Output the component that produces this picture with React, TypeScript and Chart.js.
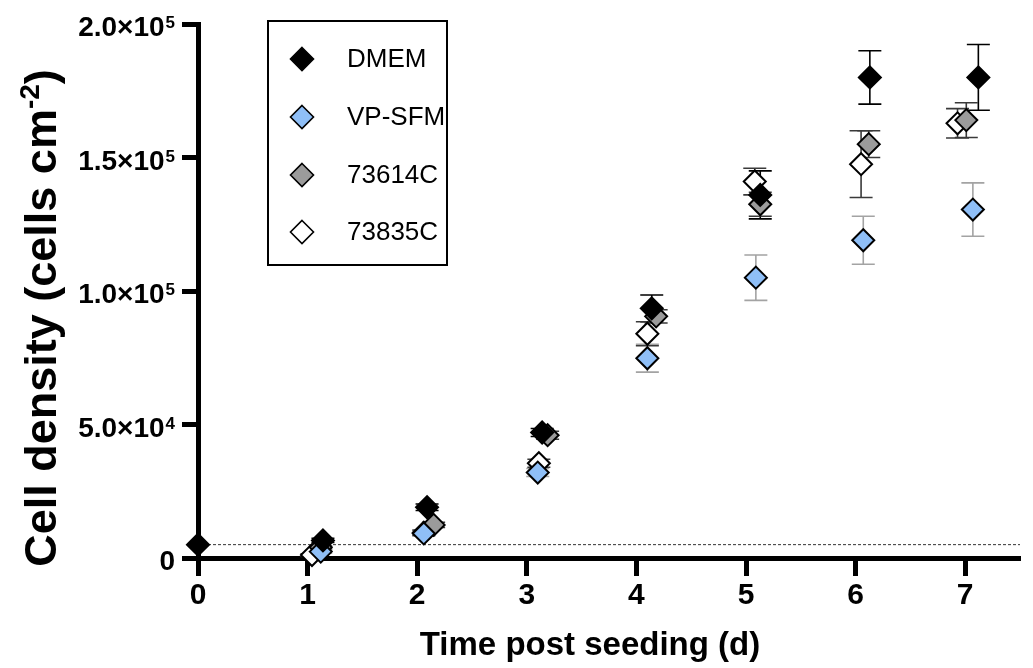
import React, { useEffect, useRef } from 'react';
import { Chart, registerables } from 'chart.js';

Chart.register(...registerables);

// ---------- data ----------
const seriesNames = ['DMEM', 'VP-SFM', '73614C', '73835C'];
const fillColors = ['#000000', '#8fbff7', '#9b9b9b', '#ffffff'];
const errColors = ['#000000', '#a3a3a3', '#3a3a3a', '#3a3a3a'];

const dmemX = [0, 1.14, 2.09, 3.14, 4.14, 5.13, 6.13, 7.12];
const dmemY = [5000, 6600, 19000, 47000, 93500, 136000, 180000, 180000];
const dmemErr = [0, 800, 1200, 1500, 5000, 9000, 10000, 12300];

const vpX = [1.12, 2.06, 3.1, 4.1, 5.09, 6.07, 7.07];
const vpY = [2400, 9200, 32000, 74800, 105000, 119000, 130500];
const vpErr = [600, 1000, 1500, 5200, 8500, 9000, 10000];

const c614X = [1.12, 2.15, 3.19, 4.18, 5.13, 6.12, 7.01];
const c614Y = [4000, 12400, 46000, 90500, 132500, 155000, 164000];
const c614Err = [500, 1000, 1500, 2500, 4500, 5000, 6500];

const c835X = [1.04, 2.06, 3.11, 4.1, 5.08, 6.05, 6.93];
const c835Y = [1100, 9500, 35500, 84000, 141000, 147500, 162800];
const c835Err = [500, 1000, 1500, 4500, 5000, 12500, 5500];

const seedingDensity = 5000;

const xMin = 0;
const xMax = 7.5;
const xTickValues = [0, 1, 2, 3, 4, 5, 6, 7];

const yMin = 0;
const yMax = 200000;
const yTickValues = [0, 50000, 100000, 150000, 200000];
const yTickMantissa = ['0', '5.0×10', '1.0×10', '1.5×10', '2.0×10'];
const yTickExponent = ['', '4', '5', '5', '5'];

const xTitle = 'Time post seeding (d)';
const yTitleMain = 'Cell density (cells cm';
const yTitleSup = '-2';
const yTitleEnd = ')';

const FONT = "'Liberation Sans', Arial, sans-serif";

function makeSet(i: number, xs: number[], ys: number[], errs: number[]) {
  return {
    type: 'scatter' as const,
    label: seriesNames[i],
    data: xs.map((x, k) => ({ x, y: ys[k] })),
    errors: errs,
    errColor: errColors[i],
    pointStyle: 'rectRot',
    pointRadius: 11,
    pointHoverRadius: 11,
    pointBorderWidth: 2,
    pointHoverBorderWidth: 2,
    pointBorderColor: '#000000',
    pointBackgroundColor: fillColors[i],
    showLine: false,
    order: i,
    clip: false,
  };
}

function diamond(ctx: CanvasRenderingContext2D, cx: number, cy: number, r: number, fill: string, lw: number) {
  ctx.beginPath();
  ctx.moveTo(cx, cy - r);
  ctx.lineTo(cx + r, cy);
  ctx.lineTo(cx, cy + r);
  ctx.lineTo(cx - r, cy);
  ctx.closePath();
  ctx.fillStyle = fill;
  ctx.fill();
  ctx.lineWidth = lw;
  ctx.strokeStyle = '#000';
  ctx.stroke();
}

const errorBarPlugin = {
  id: 'errorBars',
  beforeDatasetsDraw(chart: any) {
    const ctx = chart.ctx as CanvasRenderingContext2D;
    const xs = chart.scales.x;
    const ys = chart.scales.y;
    ctx.save();
    chart.data.datasets.forEach((ds: any) => {
      if (!ds.errors) return;
      ctx.strokeStyle = ds.errColor;
      ctx.lineWidth = 1.6;
      ds.data.forEach((p: any, k: number) => {
        const e = ds.errors[k];
        if (!e) return;
        const px = xs.getPixelForValue(p.x);
        const top = ys.getPixelForValue(p.y + e);
        const bot = ys.getPixelForValue(p.y - e);
        const cap = 11.5;
        ctx.beginPath();
        ctx.moveTo(px, top);
        ctx.lineTo(px, bot);
        ctx.moveTo(px - cap, top);
        ctx.lineTo(px + cap, top);
        ctx.moveTo(px - cap, bot);
        ctx.lineTo(px + cap, bot);
        ctx.stroke();
      });
    });
    ctx.restore();
  },
};

const decorPlugin = {
  id: 'decor',
  afterDraw(chart: any) {
    const ctx = chart.ctx as CanvasRenderingContext2D;
    const ys = chart.scales.y;
    ctx.save();
    ctx.fillStyle = '#000';

    // y tick labels with superscripts
    const rightEdge = 175;
    yTickValues.forEach((v, i) => {
      const py = ys.getPixelForValue(v);
      ctx.textAlign = 'right';
      ctx.textBaseline = 'alphabetic';
      let x = rightEdge;
      if (yTickExponent[i]) {
        ctx.font = `bold 17px ${FONT}`;
        ctx.fillText(yTickExponent[i], x, py + 4);
        x -= ctx.measureText(yTickExponent[i]).width + 1;
      }
      ctx.font = `bold 28px ${FONT}`;
      ctx.fillText(yTickMantissa[i], x, py + 12);
    });

    // x title
    ctx.font = `bold 33px ${FONT}`;
    ctx.textAlign = 'center';
    ctx.textBaseline = 'alphabetic';
    ctx.fillText(xTitle, 590, 655);

    // y title (rotated)
    ctx.save();
    ctx.translate(56, 318);
    ctx.rotate(-Math.PI / 2);
    ctx.textAlign = 'left';
    ctx.font = `bold 45px ${FONT}`;
    const w1 = ctx.measureText(yTitleMain).width;
    const w3 = ctx.measureText(yTitleEnd).width;
    ctx.font = `bold 28px ${FONT}`;
    const w2 = ctx.measureText(yTitleSup).width;
    const total = w1 + w2 + w3;
    let sx = -total / 2;
    ctx.font = `bold 45px ${FONT}`;
    ctx.fillText(yTitleMain, sx, 0);
    sx += w1;
    ctx.font = `bold 28px ${FONT}`;
    ctx.fillText(yTitleSup, sx, -17);
    sx += w2;
    ctx.font = `bold 45px ${FONT}`;
    ctx.fillText(yTitleEnd, sx, 0);
    ctx.restore();

    // legend
    ctx.lineWidth = 2;
    ctx.strokeStyle = '#000';
    ctx.strokeRect(268, 21, 179, 244);
    const rowY = [59, 117, 175, 232];
    chart.data.datasets.forEach((ds: any, i: number) => {
      if (!ds.errors) return;
      diamond(ctx, 302, rowY[i], 11.5, fillColors[i], 1.6);
      ctx.fillStyle = '#000';
      ctx.font = `26px ${FONT}`;
      ctx.textAlign = 'left';
      ctx.textBaseline = 'middle';
      ctx.fillText(ds.label, 347, rowY[i] + 1);
    });
    ctx.restore();
  },
};

export default function App() {
  const ref = useRef<HTMLCanvasElement>(null);
  useEffect(() => {
    document.body.style.margin = '0';
    const canvas = ref.current!;
    const chart = new Chart(canvas, {
      type: 'scatter',
      data: {
        datasets: [
          makeSet(0, dmemX, dmemY, dmemErr),
          makeSet(1, vpX, vpY, vpErr),
          makeSet(2, c614X, c614Y, c614Err),
          makeSet(3, c835X, c835Y, c835Err),
          {
            type: 'line',
            label: 'seeding',
            data: [
              { x: xMin, y: seedingDensity },
              { x: xMax, y: seedingDensity },
            ],
            borderColor: '#333333',
            borderWidth: 1,
            borderDash: [3, 2],
            pointRadius: 0,
            fill: false,
            order: 10,
          } as any,
        ],
      },
      options: {
        responsive: false,
        animation: false,
        devicePixelRatio: 1,
        layout: { padding: { top: 24, right: 5, left: 0, bottom: 0 } },
        plugins: { legend: { display: false }, tooltip: { enabled: false } },
        events: [],
        scales: {
          x: {
            type: 'linear',
            min: xMin,
            max: xMax,
            afterBuildTicks: (s: any) => {
              s.ticks = xTickValues.map((v) => ({ value: v }));
            },
            afterFit: (s: any) => {
              s.height = 110;
            },
            grid: {
              display: true,
              drawOnChartArea: false,
              drawTicks: true,
              tickLength: 18,
              tickWidth: 5,
              tickColor: '#000',
            },
            border: { display: true, color: '#000', width: 5 },
            ticks: {
              color: '#000',
              padding: 2,
              maxRotation: 0,
              autoSkip: false,
              font: { family: FONT, size: 30, weight: 'bold' },
              callback: (v: any) => String(v),
            },
          },
          y: {
            type: 'linear',
            min: yMin,
            max: yMax,
            afterBuildTicks: (s: any) => {
              s.ticks = yTickValues.map((v) => ({ value: v }));
            },
            afterFit: (s: any) => {
              s.width = 198;
            },
            grid: {
              display: true,
              drawOnChartArea: false,
              drawTicks: true,
              tickLength: 16,
              tickWidth: 5,
              tickColor: '#000',
            },
            border: { display: true, color: '#000', width: 5 },
            ticks: { display: false },
          },
        },
      } as any,
      plugins: [errorBarPlugin, decorPlugin],
    });
    return () => chart.destroy();
  }, []);
  return (
    <div style={{ width: 1033, height: 668 }}>
      <canvas ref={ref} width={1033} height={668} style={{ display: 'block' }} />
    </div>
  );
}
